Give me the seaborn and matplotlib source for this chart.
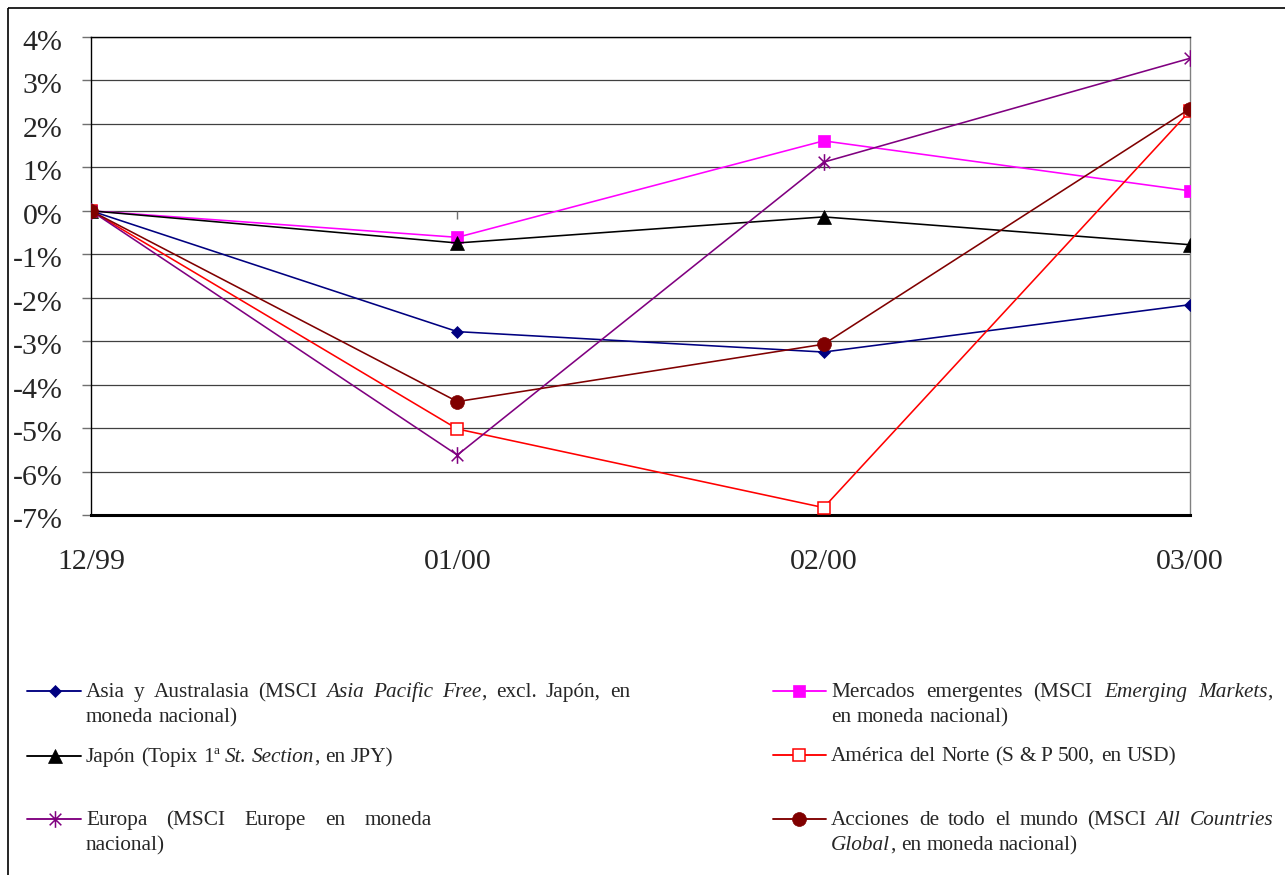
import matplotlib
matplotlib.use("Agg")
import matplotlib.pyplot as plt
import matplotlib.transforms as mtransforms
import numpy as np
import pandas as pd
import seaborn as sns
from matplotlib.path import Path
from matplotlib.patches import Rectangle

# ---------------------------------------------------------------- data
periods = ["12/99", "01/00", "02/00", "03/00"]

asia = [0.0, -2.78, -3.25, -2.16]
emergentes = [0.0, -0.61, 1.61, 0.46]
japon = [0.0, -0.74, -0.14, -0.78]
america = [0.0, -5.02, -6.83, 2.30]
europa = [0.0, -5.62, 1.12, 3.51]
mundo = [0.0, -4.39, -3.07, 2.35]

y_ticks = list(range(-7, 5))

# legend texts: "_" toggles italics, "^x" raises one character
label_asia = ["Asia y Australasia (MSCI _Asia Pacific Free_, excl. Japón, en",
              "moneda nacional)"]
label_emergentes = ["Mercados emergentes (MSCI _Emerging Markets_,",
                    "en moneda nacional)"]
label_japon = ["Japón (Topix 1^a _St. Section_, en JPY)"]
label_america = ["América del Norte (S & P 500, en USD)"]
label_europa = ["Europa (MSCI Europe en moneda", "nacional)"]
label_mundo = ["Acciones de todo el mundo (MSCI _All Countries_",
               "_Global_, en moneda nacional)"]

# ---------------------------------------------------------------- styles
sns.set_style("white")
plt.rcParams["font.family"] = ["Liberation Serif", "DejaVu Serif"]

W, H = 1285, 875

asterisk = Path([(-0.7, -0.7), (0.7, 0.7), (-0.7, 0.7), (0.7, -0.7), (0, -1), (0, 1)],
                [Path.MOVETO, Path.LINETO] * 3)

series = [
    ("Asia", asia, label_asia,
     dict(color="#000080", marker="D", markersize=6.5, markerfacecolor="#000080",
          markeredgecolor="#000080", markeredgewidth=0.5)),
    ("Emergentes", emergentes, label_emergentes,
     dict(color="#FF00FF", marker="s", markersize=9.0, markerfacecolor="#FF00FF",
          markeredgecolor="#FF00FF", markeredgewidth=0.5)),
    ("Japon", japon, label_japon,
     dict(color="#000000", marker="^", markersize=9.5, markerfacecolor="#000000",
          markeredgecolor="#000000", markeredgewidth=0.5)),
    ("America", america, label_america,
     dict(color="#FF0000", marker="s", markersize=8.5, markerfacecolor="white",
          markeredgecolor="#FF0000", markeredgewidth=1.1)),
    ("Europa", europa, label_europa,
     dict(color="#800080", marker=asterisk, markersize=12.0, markerfacecolor="none",
          markeredgecolor="#800080", markeredgewidth=1.1)),
    ("Mundo", mundo, label_mundo,
     dict(color="#800000", marker="o", markersize=10.0, markerfacecolor="#800000",
          markeredgecolor="#800000", markeredgewidth=0.5)),
]

df = pd.concat(
    [pd.DataFrame({"pos": np.arange(len(periods)), "valor": vals, "serie": name})
     for name, vals, _, _ in series],
    ignore_index=True,
)

fig = plt.figure(figsize=(W / 100, H / 100), dpi=100)
fig.patch.set_facecolor("white")

left, right, top, bottom = 91, 1190, 37, 515
ax = fig.add_axes([left / W, 1 - bottom / H, (right - left) / W, (bottom - top) / H])

LW = 1.15
for k, (name, vals, _, st) in enumerate(series):
    sub = df[df["serie"] == name]
    sns.lineplot(data=sub, x="pos", y="valor", ax=ax, linewidth=LW,
                 legend=False, zorder=5 + k, **st)

ax.set_xlim(0, len(periods) - 1)
ax.set_ylim(y_ticks[0], y_ticks[-1])
ax.set_xticks(np.arange(len(periods)))
ax.set_xticklabels(periods)
ax.set_yticks(y_ticks)
ax.set_yticklabels([f"{v}%" for v in y_ticks])
ax.set_xlabel("")
ax.set_ylabel("")

ax.grid(axis="y", color="#404040", linewidth=0.9)
ax.grid(axis="x", visible=False)
ax.set_axisbelow(True)

# small category marks on the zero line
ax.vlines(np.arange(1, len(periods)), 0, -0.18, color="#707070", linewidth=1.0, zorder=2)

ax.tick_params(axis="y", which="both", direction="out", length=6.5, width=1.0,
               color="#707070", pad=14, labelsize=21.5, left=True)
ax.tick_params(axis="x", which="both", length=0, pad=24.5, labelsize=21.5)

# nudge the percentage labels slightly below their gridlines
shift = mtransforms.ScaledTranslation(0, -3 / 100, fig.dpi_scale_trans)
for lab in ax.get_yticklabels():
    lab.set_transform(lab.get_transform() + shift)

for side in ("top", "left"):
    ax.spines[side].set_color("black")
    ax.spines[side].set_linewidth(1.0)
ax.spines["right"].set_color("#808080")
ax.spines["right"].set_linewidth(1.0)
ax.spines["bottom"].set_color("black")
ax.spines["bottom"].set_linewidth(2.2)

# ---------------------------------------------------------------- overlay (frame + legend)
lg = fig.add_axes([0, 0, 1, 1])
lg.set_xlim(0, W)
lg.set_ylim(H, 0)
lg.axis("off")

lg.add_patch(Rectangle((8, 8), W + 100, H + 100, fill=False, edgecolor="black",
                       linewidth=1.2, clip_on=False))

LEG_FS = 15.3
renderer = fig.canvas.get_renderer()


def width_of(t):
    return t.get_window_extent(renderer=renderer).width


def parse_words(text):
    words, runs, buf = [], [], ""
    italic = False
    i = 0
    while i < len(text):
        ch = text[i]
        if ch == "_":
            if buf:
                runs.append((buf, "italic" if italic else "normal"))
                buf = ""
            italic = not italic
        elif ch == "^":
            if buf:
                runs.append((buf, "italic" if italic else "normal"))
                buf = ""
            runs.append((text[i + 1], "sup"))
            i += 1
        elif ch == " ":
            if buf:
                runs.append((buf, "italic" if italic else "normal"))
                buf = ""
            if runs:
                words.append(runs)
            runs = []
        else:
            buf += ch
        i += 1
    if buf:
        runs.append((buf, "italic" if italic else "normal"))
    if runs:
        words.append(runs)
    return words


p1 = lg.text(0, 0, "n n", fontsize=LEG_FS)
p2 = lg.text(0, 0, "nn", fontsize=LEG_FS)
SPACE = width_of(p1) - width_of(p2)
p1.remove()
p2.remove()


def draw_line(x0, base, text, right_edge=None):
    words = parse_words(text)
    placed = []
    for w in words:
        objs = []
        for seg, style in w:
            if style == "sup":
                t = lg.text(0, base - 8, seg, fontsize=LEG_FS * 0.62, va="baseline", ha="left")
            else:
                t = lg.text(0, base, seg, fontsize=LEG_FS, style=style,
                            va="baseline", ha="left")
            objs.append(t)
        placed.append(objs)
    widths = [sum(width_of(t) for t in objs) for objs in placed]
    gap = SPACE
    if right_edge is not None and len(placed) > 1:
        gap = (right_edge - x0 - sum(widths)) / (len(placed) - 1)
    x = x0
    for objs in placed:
        for t in objs:
            t.set_x(x)
            x += width_of(t)
        x += gap


# handle geometry and text positions for each legend entry
legend_layout = [
    # (handle x0, handle x1, marker x, handle y, text x, baselines, justified right edge)
    (27, 81, 55, 691, 86, [697, 722], 630),
    (773, 826, 799, 691, 831, [697, 722], 1273),
    (27, 81, 55, 756, 86, [762], None),
    (773, 826, 799, 755, 831, [761], None),
    (27, 81, 55, 819, 86, [825, 850], 432),
    (773, 826, 799, 819, 831, [825, 850], 1273),
]

for (name, vals, label, st), (hx0, hx1, mx, hy, tx, bases, redge) in zip(series, legend_layout):
    lg.plot([hx0, hx1], [hy, hy], color=st["color"], linewidth=LW + 0.2)
    lg.plot([mx], [hy], linestyle="none", **{k: v for k, v in st.items() if k != "color"})
    for j, (line, b) in enumerate(zip(label, bases)):
        is_last = j == len(label) - 1
        draw_line(tx, b, line, None if (is_last and len(label) > 1) or redge is None else redge)

fig.savefig("out.png", dpi=100, facecolor="white")
